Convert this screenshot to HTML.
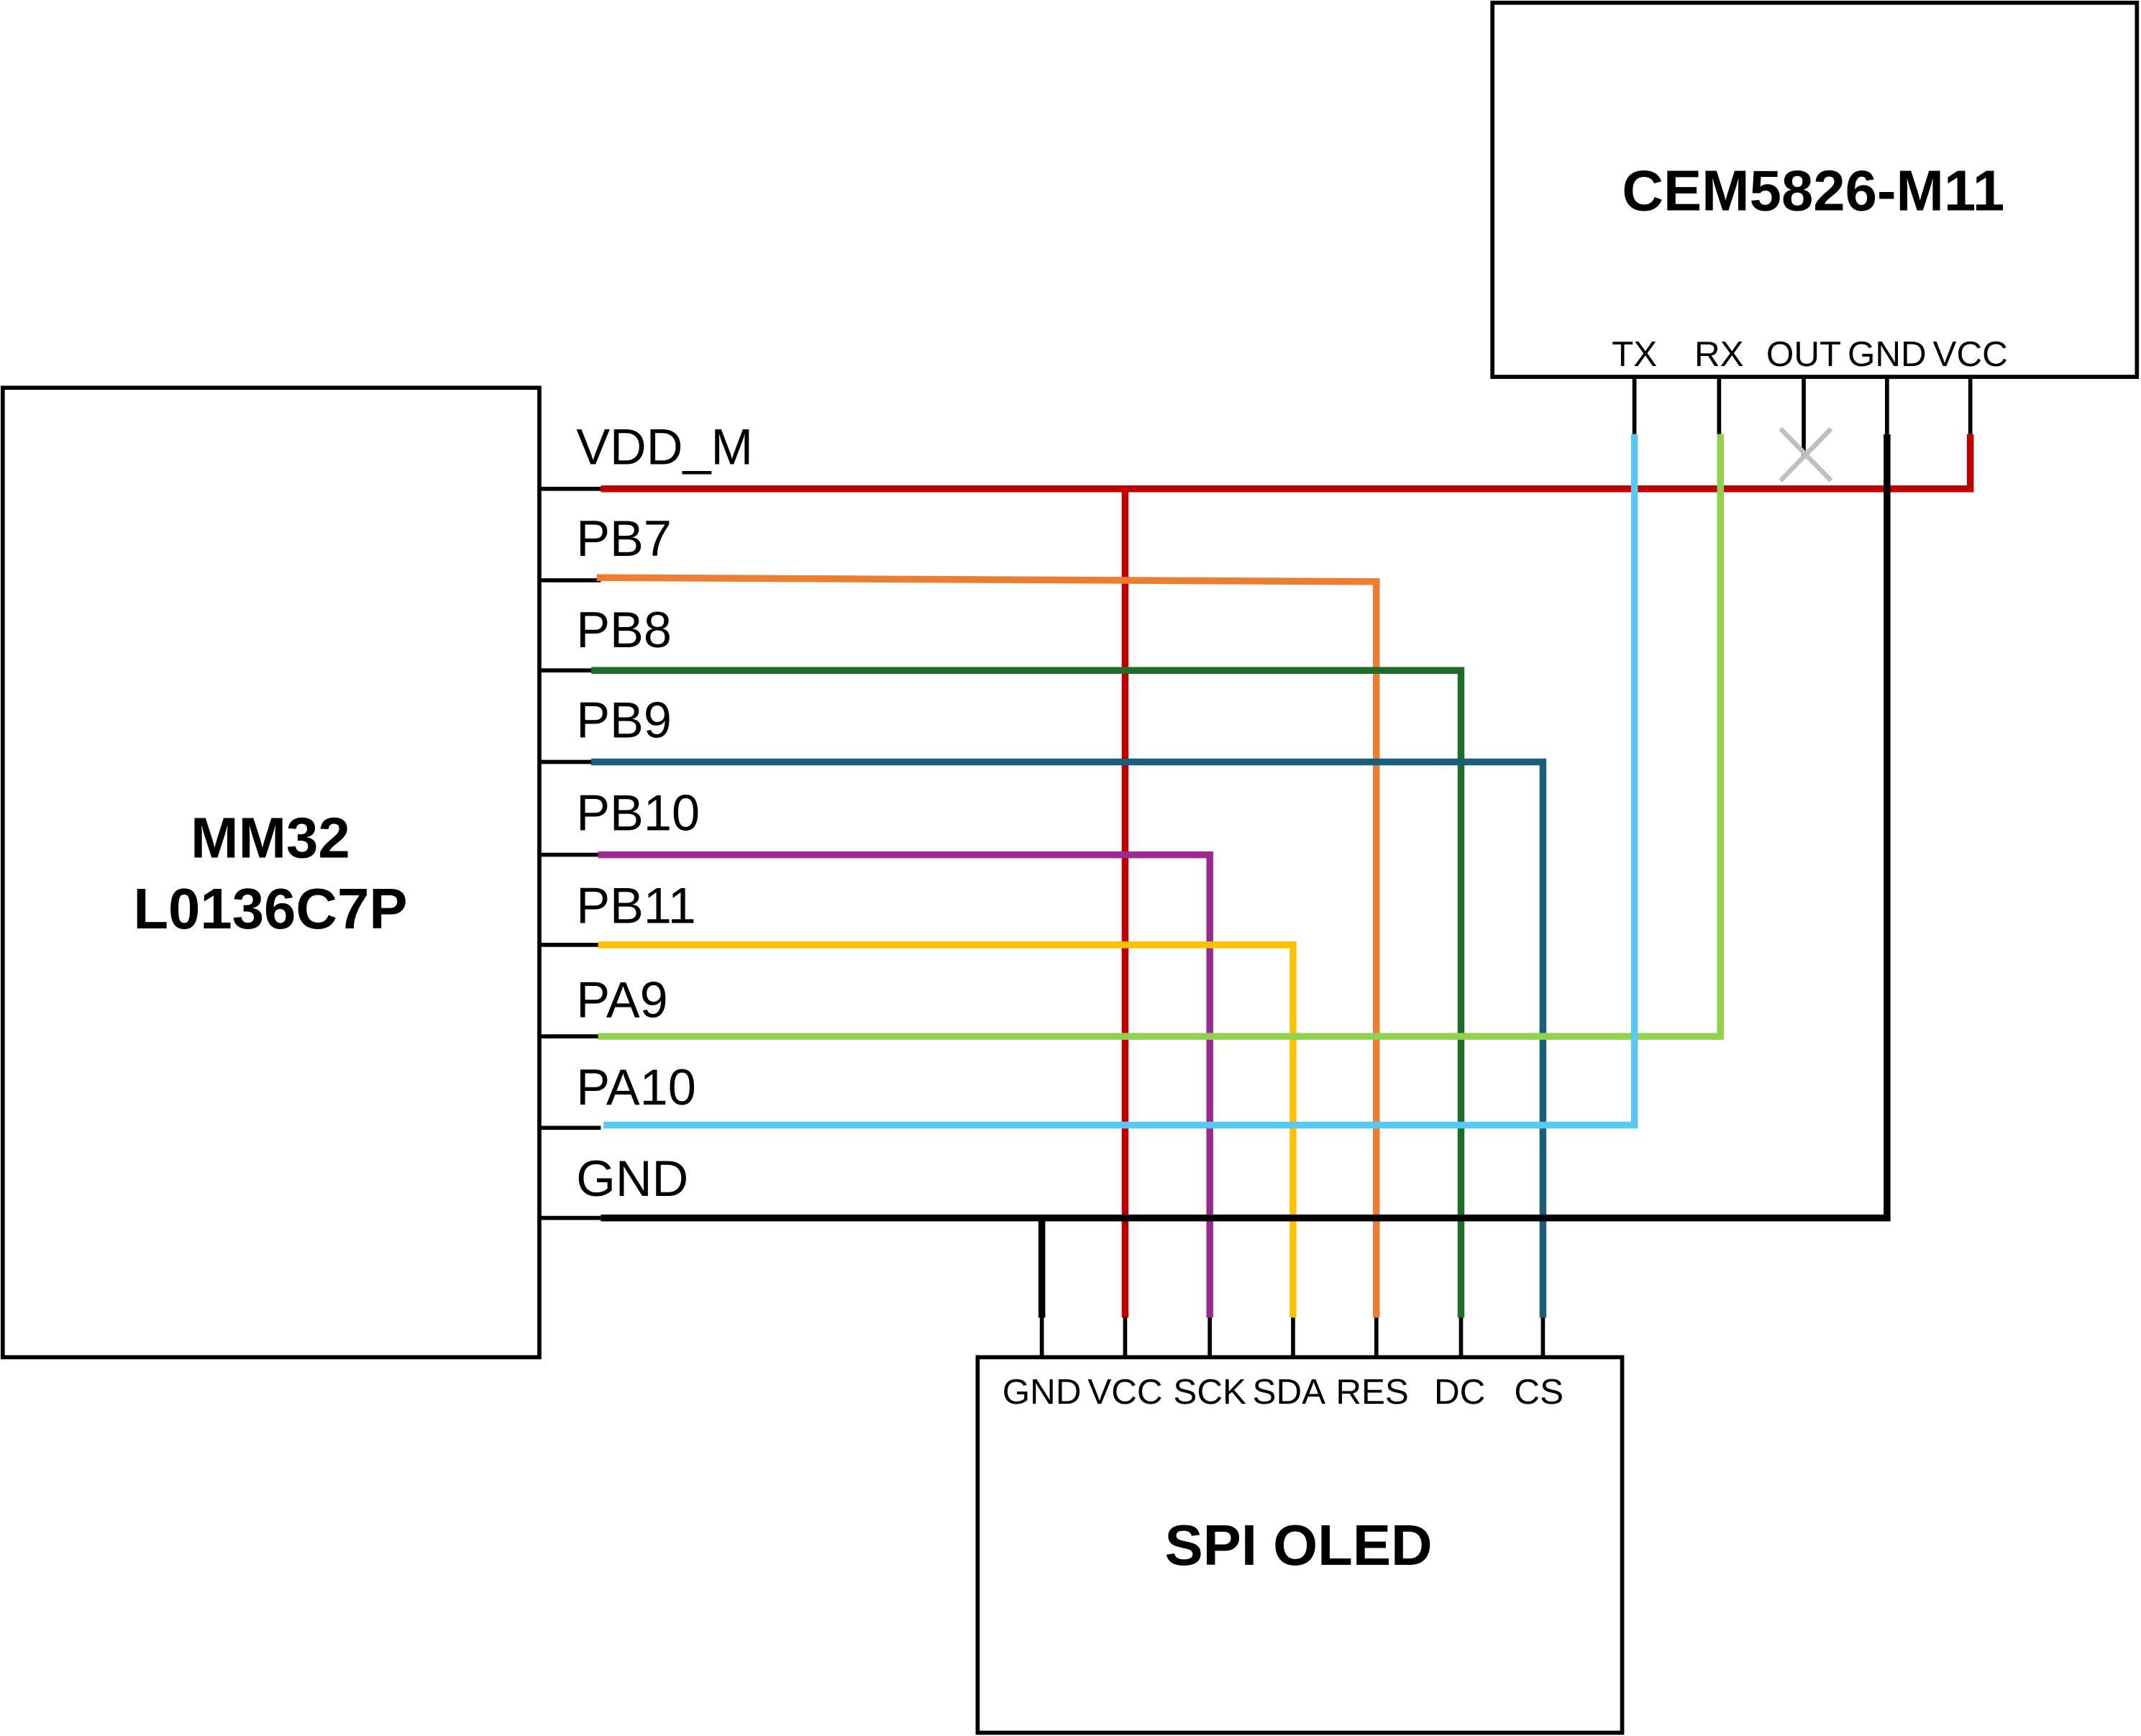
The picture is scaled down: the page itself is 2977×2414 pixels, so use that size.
<!DOCTYPE html>
<html><head><meta charset="utf-8"><style>
html,body{margin:0;padding:0;background:#fff}
svg{display:block}
text{font-family:"Liberation Sans",sans-serif}
</style></head><body>
<svg width="2977" height="2414" viewBox="0 0 1568 1271.4" preserveAspectRatio="none" xmlns="http://www.w3.org/2000/svg">
<g fill="none" stroke="#000" stroke-width="3">
<rect x="2" y="284" width="393" height="710"/>
<rect x="1093" y="2" width="472" height="274"/>
<rect x="716" y="994" width="472" height="275"/>
</g>
<g stroke="#000" stroke-width="3">
<line x1="395" y1="358" x2="440" y2="358"/>
<line x1="395" y1="425" x2="440" y2="425"/>
<line x1="395" y1="491" x2="440" y2="491"/>
<line x1="395" y1="558" x2="440" y2="558"/>
<line x1="395" y1="626" x2="440" y2="626"/>
<line x1="395" y1="692" x2="440" y2="692"/>
<line x1="395" y1="759" x2="440" y2="759"/>
<line x1="395" y1="826" x2="440" y2="826"/>
<line x1="395" y1="892" x2="440" y2="892"/>
<line x1="1197" y1="276" x2="1197" y2="318"/>
<line x1="1259" y1="276" x2="1259" y2="318"/>
<line x1="1321" y1="276" x2="1321" y2="334"/>
<line x1="1382" y1="276" x2="1382" y2="318"/>
<line x1="1443" y1="276" x2="1443" y2="318"/>
<line x1="763" y1="960" x2="763" y2="994"/>
<line x1="824" y1="960" x2="824" y2="994"/>
<line x1="886" y1="960" x2="886" y2="994"/>
<line x1="947" y1="960" x2="947" y2="994"/>
<line x1="1008" y1="960" x2="1008" y2="994"/>
<line x1="1070" y1="960" x2="1070" y2="994"/>
<line x1="1130" y1="960" x2="1130" y2="994"/>
</g>
<g fill="none" stroke-width="5">
<polyline stroke="#c00000" points="440,358 1443,358 1443,318"/>
<line stroke="#c00000" x1="824" y1="358" x2="824" y2="965"/>
<polyline stroke="#ed7d31" points="437,423 1008,426 1008,965"/>
<polyline stroke="#1e6e2a" points="433,491 1070,491 1070,965"/>
<polyline stroke="#1b5e7a" points="433,558 1130,558 1130,965"/>
<polyline stroke="#9b2a8f" points="438,626 886,626 886,965"/>
<polyline stroke="#ffc000" points="438,692 947,692 947,965"/>
<polyline stroke="#92d050" points="438,759 1260,759 1260,318"/>
<polyline stroke="#5bc8f0" points="442,824 1197,824 1197,318"/>
<polyline stroke="#000" points="440,892 1382,892 1382,318"/>
<line stroke="#000" x1="763" y1="892" x2="763" y2="965"/>
</g>
<g stroke="#c0c0c0" stroke-width="3.5">
<line x1="1304" y1="314" x2="1341" y2="352"/>
<line x1="1341" y1="314" x2="1304" y2="352"/>
</g>
<g font-size="37" fill="#000">
<text x="422" y="340">VDD_M</text>
<text x="422" y="407">PB7</text>
<text x="422" y="474">PB8</text>
<text x="422" y="540">PB9</text>
<text x="422" y="608">PB10</text>
<text x="422" y="676">PB11</text>
<text x="422" y="745">PA9</text>
<text x="422" y="809">PA10</text>
<text x="422" y="876">GND</text>
</g>
<g font-size="26" fill="#000" text-anchor="middle">
<text x="1197" y="268">TX</text>
<text x="1259" y="268">RX</text>
<text x="1321" y="268">OUT</text>
<text x="1382" y="268">GND</text>
<text x="1443" y="268">VCC</text>
<text x="763" y="1028">GND</text>
<text x="824" y="1028">VCC</text>
<text x="886" y="1028">SCK</text>
<text x="944" y="1028">SDA</text>
<text x="1005" y="1028">RES</text>
<text x="1069" y="1028">DC</text>
<text x="1127" y="1028">CS</text>
</g>
<g font-size="42" font-weight="bold" fill="#000" text-anchor="middle">
<text x="1328" y="154">CEM5826-M11</text>
<text x="198" y="628">MM32</text>
<text x="198" y="680">L0136C7P</text>
<text x="951" y="1146">SPI OLED</text>
</g>
</svg>
</body></html>
